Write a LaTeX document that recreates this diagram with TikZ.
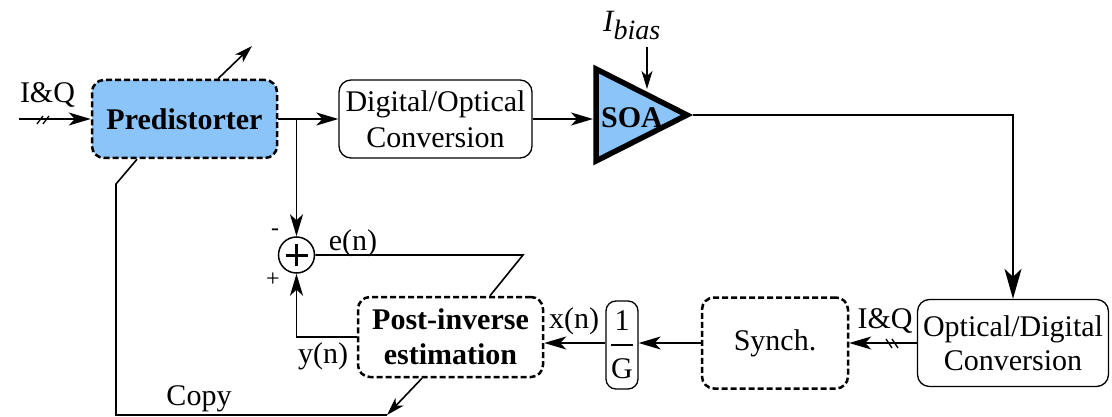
\documentclass[tikz,border=0pt]{standalone}
\usepackage{fontspec}
\setmainfont{Liberation Serif}
\usetikzlibrary{arrows.meta}
\definecolor{soablue}{RGB}{138,196,248}
\tikzset{
  txt/.style={font=\fontsize{30}{36}\selectfont},
  btxt/.style={font=\fontsize{30}{35}\selectfont\bfseries},
  blk/.style={draw, rounded corners=12pt, line width=1.3pt, align=center, inner sep=0pt, txt},
  dblk/.style={blk, dash pattern=on 6pt off 3pt, line width=2.5pt},
  conn/.style={line width=1.6pt},
  arr/.style={conn, -{Stealth[length=22pt,width=13pt,inset=6pt]}},
  sarr/.style={conn, -{Stealth[length=18pt,width=11pt,inset=5pt]}},
  barr/.style={conn, -{Stealth[length=30pt,width=17pt,inset=8pt]}},
  lbl/.style={txt, inner sep=0pt, anchor=base},
}
\begin{document}
\begin{tikzpicture}[x=1pt,y=-1pt]
\useasboundingbox (0,0) rectangle (1112,417);

% blocks
\node[dblk, btxt, fill=soablue, minimum width=185pt, minimum height=78pt] (pre) at (184.5,119) {Predistorter};
\node[blk, minimum width=193pt, minimum height=78pt] (doc) at (435.5,119) {Digital/Optical\\Conversion};
\draw[line width=5.5pt, fill=soablue, miter limit=10] (596,69) -- (687,115) -- (596,161) -- cycle;
\coordinate (soaL) at (593,119);
\coordinate (soaR) at (693,115);
\coordinate (soaT) at (647,89);
\node[btxt, inner sep=0pt, anchor=base] (soa) at (632,128) {SOA};
\node[inner sep=0pt, anchor=base west, font=\fontsize{31}{33}\selectfont\itshape] (ib) at (603,32) {I\raisebox{-8pt}{\fontsize{28}{30}\selectfont bias}};
\coordinate (ibT) at (647,47);

\node[blk, minimum width=191pt, minimum height=87pt, font=\fontsize{30}{34}\selectfont] (od) at (1013,343) {Optical/Digital\\Conversion};
\node[dblk, minimum width=146pt, minimum height=91pt] (syn) at (775,343) {Synch.};
\node[blk, rounded corners=10pt, minimum width=32pt, minimum height=88pt] (g) at (622,345) {1\\[-21pt]\rule{22pt}{1.3pt}\\[-3pt]G};
\node[dblk, btxt, minimum width=185pt, minimum height=80pt] (post) at (450.5,337) {Post-inverse\\estimation};
\node[draw, circle, minimum size=36pt, inner sep=0pt, line width=1.5pt] (sum) at (296.5,255) {};
\draw[line width=3pt] ([xshift=-11pt]sum.center) -- ([xshift=11pt]sum.center);
\draw[line width=3pt] ([yshift=-11pt]sum.center) -- ([yshift=11pt]sum.center);

% coordinates
\coordinate (in) at (19,119);
\coordinate (j) at (296.5,119);
\coordinate (padapt) at (252,46);
\coordinate (pbend) at (116,184);
\coordinate (pcorner) at (116,415);
\coordinate (cp) at (387,415);
\coordinate (ebend) at (523,255);
\coordinate (sbend) at (1013,115);

% connectors
\draw[arr] (in) -- (pre.west);
\draw[line width=1.3pt] (37,124) -- (43,116) (43,124) -- (49,116);
\draw[arr] (pre.east) -- (doc.west);
\draw[arr] (j) -- (sum.north);
\draw[sarr] ([xshift=33.5pt]pre.north) -- (padapt);
\draw[conn] ([xshift=-47.5pt]pre.south) -- (pbend) -- (pcorner) -- (cp);
\draw[arr] (doc.east |- soaL) -- (soaL);
\draw[sarr] (ibT) -- (soaT);
\draw[barr] (soaR) -- (sbend) -- (od.north);
\draw[arr] (od.west) -- (syn.east);
\draw[line width=1.3pt] (886,339) -- (892,348) (892,339) -- (898,348);
\draw[arr] (syn.west) -- (syn.west -| g.east);
\draw[arr] (syn.west -| g.west) -- (syn.west -| post.east);
\draw[arr] (post.west) -| (sum.south);
\draw[conn] (sum.east) -- (ebend) -- ([xshift=39.5pt]post.north);
\draw[sarr] ([xshift=-28.5pt]post.south) -- (cp);

% labels
\node[lbl] at (47.5,103) {I\&Q};
\node[lbl] at (199,405) {Copy};
\node[lbl] at (353,251) {e(n)};
\node[lbl] at (323,363) {y(n)};
\node[lbl] at (574,328) {x(n)};
\node[lbl] at (885,328) {I\&Q};
\node[txt, inner sep=0pt, font=\fontsize{24}{24}\selectfont] at (275,232) {-};
\node[txt, inner sep=0pt, font=\fontsize{24}{24}\selectfont] at (273,280) {+};
\end{tikzpicture}
\end{document}
